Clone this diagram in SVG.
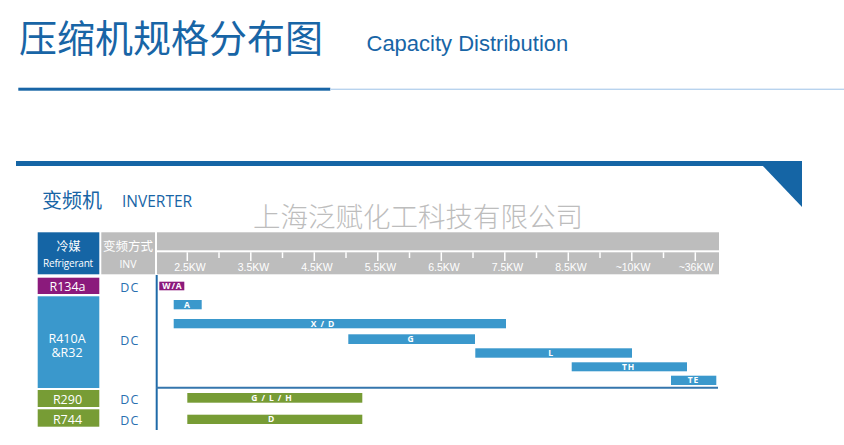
<svg xmlns="http://www.w3.org/2000/svg" width="844" height="445" viewBox="0 0 844 445">
<style>
.cjk{font-family:"Noto Sans CJK SC","Noto Sans",sans-serif}
.os{font-family:"Open Sans","Noto Sans",sans-serif}
.ar{font-family:"Liberation Sans",Arial,sans-serif}
.blue{fill:#1865a6}
.bar-b{fill:#3a98cc}
.bar-g{fill:#779c35}
.bar-p{fill:#8b1a7c}
.bl{fill:#fff;font-family:"Open Sans","Noto Sans",sans-serif;font-weight:700;font-size:8.5px;letter-spacing:0.9px;text-anchor:middle}
.cell{fill:#fff;font-family:"Open Sans","Noto Sans",sans-serif;font-size:12.5px;text-anchor:middle}
.dc{fill:#2a6fb0;font-family:"Open Sans","Noto Sans",sans-serif;font-size:12.5px;letter-spacing:1.2px;text-anchor:middle}
.kw{fill:#fff;font-family:"Liberation Sans",Arial,sans-serif;font-size:10.5px;text-anchor:middle}
.tk{stroke:#fff;stroke-width:1.5}
</style>
<rect width="844" height="445" fill="#fff"/>
<g id="title">
<text x="19" y="51.5" class="cjk blue" font-size="38">压缩机规格分布图</text>
<text x="366.5" y="50.7" class="ar blue" font-size="22">Capacity Distribution</text>
<rect x="18.3" y="87.7" width="312" height="3" fill="#1865a6"/>
<rect x="330" y="88.6" width="514" height="1.4" fill="#b8d3ee"/>
</g>
<g id="band">
<rect x="16" y="161" width="786" height="5" fill="#1565a5"/>
<polygon points="762,165 802,165 802,207" fill="#1565a5"/>
</g>
<g id="section">
<text x="42" y="208" class="cjk blue" font-size="20">变频机</text>
<text x="122" y="207" class="os blue" font-size="15.5">INVERTER</text>
</g>
<text x="253" y="226.5" class="cjk" font-size="27.5" font-weight="300" fill="#bdbdbd">上海泛赋化工科技有限公司</text>
<g id="header">
<rect x="37.7" y="232.3" width="61.6" height="42" fill="#1565a5"/>
<text x="68.5" y="250.5" class="cjk" font-size="12" fill="#fff" text-anchor="middle">冷媒</text>
<text x="68" y="266.5" class="os" font-size="10" letter-spacing="-0.2" fill="#fff" text-anchor="middle">Refrigerant</text>
<rect x="101.3" y="232.3" width="53.7" height="42" fill="#bdbdbd"/>
<text x="128" y="250.5" class="cjk" font-size="12.5" fill="#fff" text-anchor="middle">变频方式</text>
<text x="128" y="268" class="os" font-size="10.5" fill="#fff" text-anchor="middle">INV</text>
<rect x="157" y="232.3" width="562" height="18" fill="#bdbdbd"/>
<rect x="157" y="252.3" width="562" height="22" fill="#bdbdbd"/>
<g id="ticks">
<line class="tk" x1="187.3" y1="252.3" x2="187.3" y2="261"/>
<line class="tk" x1="250.8" y1="252.3" x2="250.8" y2="261"/>
<line class="tk" x1="314.3" y1="252.3" x2="314.3" y2="261"/>
<line class="tk" x1="377.8" y1="252.3" x2="377.8" y2="261"/>
<line class="tk" x1="441.3" y1="252.3" x2="441.3" y2="261"/>
<line class="tk" x1="504.8" y1="252.3" x2="504.8" y2="261"/>
<line class="tk" x1="568.3" y1="252.3" x2="568.3" y2="261"/>
<line class="tk" x1="631.8" y1="252.3" x2="631.8" y2="261"/>
<line class="tk" x1="695.3" y1="252.3" x2="695.3" y2="261"/>
<line class="tk" x1="219" y1="252.3" x2="219" y2="258"/>
<line class="tk" x1="282.5" y1="252.3" x2="282.5" y2="258"/>
<line class="tk" x1="346" y1="252.3" x2="346" y2="258"/>
<line class="tk" x1="409.5" y1="252.3" x2="409.5" y2="258"/>
<line class="tk" x1="473" y1="252.3" x2="473" y2="258"/>
<line class="tk" x1="536.5" y1="252.3" x2="536.5" y2="258"/>
<line class="tk" x1="600" y1="252.3" x2="600" y2="258"/>
<line class="tk" x1="663.5" y1="252.3" x2="663.5" y2="258"/>
</g>
<text class="kw" x="190" y="270.5">2.5KW</text>
<text class="kw" x="253.5" y="270.5">3.5KW</text>
<text class="kw" x="317" y="270.5">4.5KW</text>
<text class="kw" x="380.5" y="270.5">5.5KW</text>
<text class="kw" x="444" y="270.5">6.5KW</text>
<text class="kw" x="507.5" y="270.5">7.5KW</text>
<text class="kw" x="571" y="270.5">8.5KW</text>
<text class="kw" x="633" y="270.5">~10KW</text>
<text class="kw" x="696" y="270.5">~36KW</text>
</g>
<g id="refrigerants">
<g id="r134a">
<rect x="37.7" y="277.7" width="61.6" height="16.3" class="bar-p"/>
<text class="cell" x="67.5" y="291">R134a</text>
<text class="dc" x="130" y="291.5">DC</text>
</g>
<g id="r410a">
<rect x="37.7" y="296.3" width="61.6" height="91.7" class="bar-b"/>
<text class="cell" x="67" y="342.6" font-size="12">R410A</text>
<text class="cell" x="67" y="357.4" font-size="12">&amp;R32</text>
<text class="dc" x="130" y="345.2">DC</text>
</g>
<g id="r290">
<rect x="37.7" y="390" width="61.6" height="17" class="bar-g"/>
<text class="cell" x="67.5" y="403.5">R290</text>
<text class="dc" x="130" y="404.2">DC</text>
</g>
<g id="r744">
<rect x="37.7" y="409.3" width="61.6" height="17.4" class="bar-g"/>
<text class="cell" x="67.5" y="423.5">R744</text>
<text class="dc" x="130" y="425.2">DC</text>
</g>
</g>
<g id="connectors">
<line x1="156.7" y1="275" x2="156.7" y2="430" stroke="#1f6aa8" stroke-width="2"/>
<line x1="156" y1="387.8" x2="718" y2="387.8" stroke="#3576ad" stroke-width="2"/>
</g>
<g id="bars">
<g id="bar-wa"><rect x="159.3" y="281.7" width="25" height="8.6" class="bar-p"/><text class="bl" x="172.5" y="289">W/A</text></g>
<g id="bar-a"><rect x="173.7" y="300" width="28" height="9.3" class="bar-b"/><text class="bl" x="187.5" y="307.8">A</text></g>
<g id="bar-xd"><rect x="173.7" y="319" width="332.3" height="9.3" class="bar-b"/><text class="bl" x="323" y="326.8">X / D</text></g>
<g id="bar-g"><rect x="348.3" y="334.3" width="126.7" height="9.7" class="bar-b"/><text class="bl" x="411" y="342.4">G</text></g>
<g id="bar-l"><rect x="475.3" y="348.3" width="156.7" height="9.4" class="bar-b"/><text class="bl" x="551" y="356.1">L</text></g>
<g id="bar-th"><rect x="571.7" y="362.3" width="115.3" height="9" class="bar-b"/><text class="bl" x="628.5" y="369.9">TH</text></g>
<g id="bar-te"><rect x="671" y="375.7" width="45.3" height="9.3" class="bar-b"/><text class="bl" x="693.5" y="383.4">TE</text></g>
<g id="bar-glh"><rect x="187.3" y="393" width="175" height="9.7" class="bar-g"/><text class="bl" x="272" y="400.9">G / L / H</text></g>
<g id="bar-d"><rect x="187.3" y="414.7" width="175" height="9.3" class="bar-g"/><text class="bl" x="271.5" y="422.4">D</text></g>
</g>
</svg>
